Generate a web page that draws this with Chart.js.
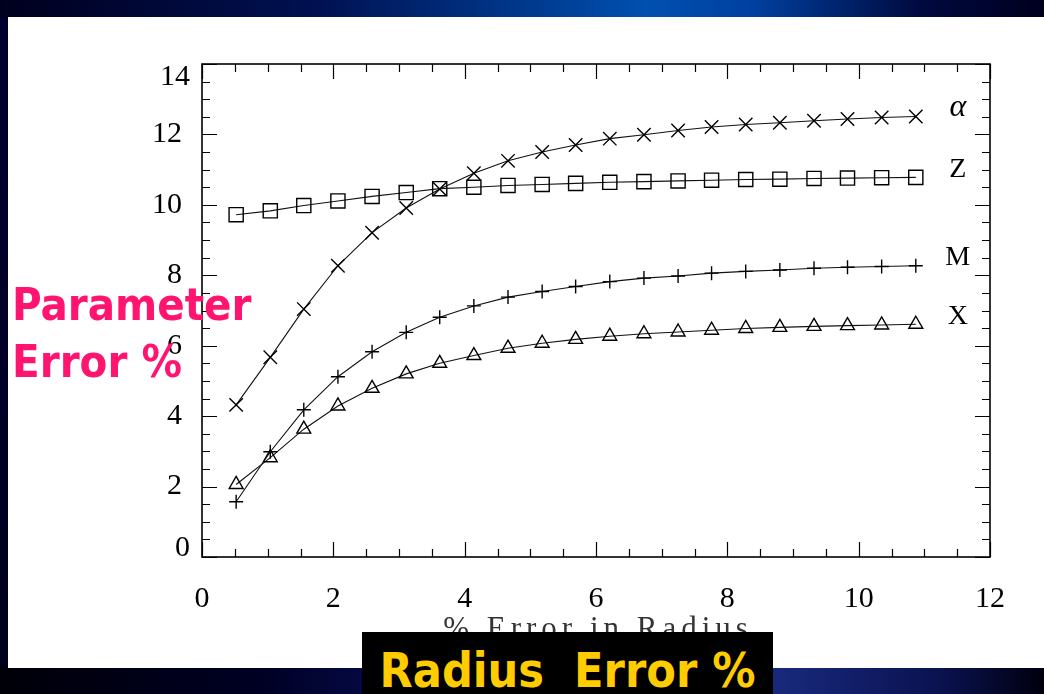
<!DOCTYPE html>
<html lang="en">
<head>
<meta charset="UTF-8">
<title>Parameter Error vs Radius Error</title>
<script src="https://cdn.jsdelivr.net/npm/chart.js@4.4.0/dist/chart.umd.min.js"></script>
<style>
    html, body { margin: 0; padding: 0; }
    body {
        width: 1044px; height: 694px; overflow: hidden; position: relative;
        background: linear-gradient(180deg, #000030 0%, #000026 60%, #00001a 100%);
    }
    #topBand {
        position: absolute; left: 0; top: 0; width: 1044px; height: 17px;
        background: linear-gradient(90deg, #00001e 0%, #001050 30%, #0050b0 62%, #0040a0 72%, #000a40 88%, #00001e 100%);
    }
    #bottomBand {
        position: absolute; left: 0; top: 668px; width: 1044px; height: 26px;
        background: linear-gradient(90deg, #000008 0%, #000024 25%, #0a1260 45%, #18287a 75%, #0a1250 90%, #00000e 100%);
    }
    #panel {
        position: absolute; left: 8px; top: 17px; width: 1036px; height: 651px; background: #fff;
    }
    #wrap { position: absolute; left: 0; top: 0; width: 1044px; height: 694px; }
    #yTitle {
        position: absolute; left: 12px; top: 276px;
        font-family: "DejaVu Sans Condensed", "DejaVu Sans", sans-serif; font-weight: bold;
        font-size: 45px; line-height: 57px; color: #ff1470; white-space: nowrap;
    }
    #xBox {
        position: absolute; left: 362px; top: 632px; width: 411px; height: 62px; overflow: hidden;
        background: #000; text-align: center;
        font-family: "DejaVu Sans Condensed", "DejaVu Sans", sans-serif; font-weight: bold;
        font-size: 48px; line-height: 76px; color: #ffcc00; white-space: pre;
    }
</style>
</head>
<body>
<div id="topBand"></div>
<div id="bottomBand"></div>
<div id="panel"></div>
<div id="wrap"><canvas id="errChart"></canvas></div>
<div id="yTitle">Parameter<br>Error %</div>
<div id="xBox">Radius  Error %</div>

<script>
// % error in radius (x positions of the points)
const radiusErr = [0.52, 1.04, 1.55, 2.07, 2.59, 3.11, 3.62, 4.14, 4.66, 5.18, 5.69,
                   6.21, 6.73, 7.25, 7.76, 8.28, 8.80, 9.32, 9.83, 10.35, 10.87];

// parameter errors
const alphaErr = [4.32, 5.67, 7.04, 8.27, 9.21, 9.91, 10.45, 10.90, 11.25, 11.50, 11.70,
                  11.88, 11.99, 12.11, 12.21, 12.28, 12.33, 12.39, 12.44, 12.48, 12.51];
const zErr     = [9.72, 9.83, 9.98, 10.11, 10.24, 10.35, 10.46, 10.50, 10.55, 10.58, 10.61,
                  10.64, 10.66, 10.68, 10.70, 10.72, 10.73, 10.75, 10.76, 10.77, 10.78];
const mErr     = [1.57, 2.99, 4.18, 5.12, 5.83, 6.38, 6.81, 7.13, 7.38, 7.54, 7.68,
                  7.82, 7.92, 7.98, 8.06, 8.11, 8.15, 8.20, 8.23, 8.25, 8.27];
const xErr     = [2.06, 2.82, 3.63, 4.29, 4.79, 5.20, 5.50, 5.72, 5.93, 6.07, 6.18,
                  6.27, 6.34, 6.39, 6.44, 6.49, 6.52, 6.55, 6.57, 6.59, 6.61];

const seriesNames = ['\u03B1', 'Z', 'M', 'X'];
const xTicks = [0, 2, 4, 6, 8, 10, 12];
const yTicks = [0, 2, 4, 6, 8, 10, 12, 14];
const xTitle = '% Error in Radius';

const serif = '"Liberation Serif", "DejaVu Serif", serif';

function points(ys) {
    return ys.map((v, i) => ({ x: radiusErr[i], y: v }));
}

function series(label, ys, style, radius) {
    return {
        label: label,
        data: points(ys),
        showLine: true,
        borderColor: '#111',
        borderWidth: 1.1,
        tension: 0,
        pointStyle: style,
        pointRadius: radius,
        pointBorderColor: '#000',
        pointBorderWidth: 1.4,
        pointBackgroundColor: 'rgba(0,0,0,0)'
    };
}

// IDL style box: frame plus inward ticks on all four sides, edge y labels kept inside
const idlFrame = {
    id: 'idlFrame',
    beforeDatasetsDraw(chart) {
        const { ctx, chartArea: a, scales: { x, y } } = chart;
        ctx.save();
        ctx.strokeStyle = '#000';
        ctx.lineWidth = 1.2;
        ctx.beginPath();
        for (let v = x.min; v <= x.max; v += 0.5) {
            const px = Math.round(x.getPixelForValue(v)) + 0.5;
            const len = v % 2 === 0 ? 15 : 8;
            ctx.moveTo(px, a.bottom); ctx.lineTo(px, a.bottom - len);
            ctx.moveTo(px, a.top); ctx.lineTo(px, a.top + len);
        }
        for (let v = y.min; v <= y.max; v += 0.5) {
            const py = Math.round(y.getPixelForValue(v)) + 0.5;
            const len = v % 2 === 0 ? 15 : 8;
            ctx.moveTo(a.left, py); ctx.lineTo(a.left + len, py);
            ctx.moveTo(a.right, py); ctx.lineTo(a.right - len, py);
        }
        ctx.stroke();
        ctx.lineWidth = 1.6;
        ctx.strokeRect(a.left, a.top, a.right - a.left, a.bottom - a.top);

        ctx.fillStyle = '#000';
        ctx.font = '30px ' + serif;
        ctx.textAlign = 'right';
        ctx.textBaseline = 'middle';
        [y.min, y.max].forEach(v => {
            const py = Math.min(a.bottom - 9, Math.max(a.top + 13, y.getPixelForValue(v)));
            ctx.fillText(String(v), a.left - 12, py);
        });

        // wide-set axis title, like the plotting package's stroke font
        ctx.fillStyle = '#333';
        ctx.font = '31px ' + serif;
        ctx.textAlign = 'center';
        ctx.letterSpacing = '5px';
        ctx.fillText(xTitle, (a.left + a.right) / 2 + 2, 630);
        ctx.restore();
    },
    afterDatasetsDraw(chart) {
        const { ctx } = chart;
        ctx.save();
        ctx.fillStyle = '#000';
        ctx.textAlign = 'center';
        ctx.textBaseline = 'middle';
        chart.data.datasets.forEach((ds, i) => {
            const pts = chart.getDatasetMeta(i).data;
            const last = pts[pts.length - 1];
            ctx.font = (i === 0 ? 'italic 32px ' : '28px ') + serif;
            ctx.fillText(ds.label, last.x + 42, last.y - (i === 0 ? 9 : 8));
        });
        ctx.restore();
    }
};

new Chart(document.getElementById('errChart'), {
    type: 'scatter',
    data: {
        datasets: [
            series(seriesNames[0], alphaErr, 'crossRot', 9.5),
            series(seriesNames[1], zErr, 'rect', 10),
            series(seriesNames[2], mErr, 'cross', 7),
            series(seriesNames[3], xErr, 'triangle', 8)
        ]
    },
    options: {
        responsive: true,
        maintainAspectRatio: false,
        animation: false,
        layout: { padding: { top: 64, right: 54, left: 0, bottom: 0 } },
        plugins: {
            legend: { display: false },
            tooltip: { enabled: false }
        },
        scales: {
            x: {
                type: 'linear',
                min: 0,
                max: 12,
                afterFit: s => { s.height = 137; },
                afterBuildTicks: s => { s.ticks = xTicks.map(v => ({ value: v })); },
                grid: { display: false },
                border: { display: false },
                ticks: { color: '#000', padding: 16, font: { family: serif, size: 30 } }
            },
            y: {
                type: 'linear',
                min: 0,
                max: 14,
                afterFit: s => { s.width = 202; },
                afterBuildTicks: s => { s.ticks = yTicks.map(v => ({ value: v })); },
                grid: { display: false },
                border: { display: false },
                ticks: {
                    color: '#000',
                    padding: 12,
                    font: { family: serif, size: 30 },
                    callback: v => (v === 0 || v === 14) ? '' : v
                }
            }
        }
    },
    plugins: [idlFrame]
});
</script>
</body>
</html>
